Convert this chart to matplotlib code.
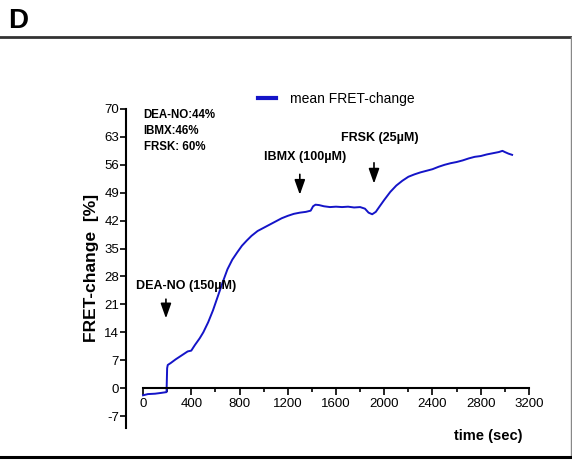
import matplotlib
matplotlib.use('Agg')

import numpy as np
import matplotlib.pyplot as plt
from matplotlib.lines import Line2D

plt.rcParams['font.family'] = ['Liberation Sans', 'DejaVu Sans']
plt.rcParams['axes.unicode_minus'] = False

# mean FRET-change trace
time_s = [0, 40, 100, 150, 195, 200, 205, 230, 270, 320, 370, 400, 430, 470, 500,
          540, 580, 620, 660, 700, 740, 780, 820, 860, 900, 950, 1000, 1050, 1100,
          1150, 1200, 1250, 1300, 1350, 1390, 1410, 1430, 1460, 1500, 1550, 1600,
          1650, 1700, 1750, 1800, 1840, 1870, 1900, 1930, 1960, 2000, 2050, 2100,
          2150, 2200, 2250, 2300, 2350, 2400, 2450, 2500, 2550, 2600, 2650, 2700,
          2750, 2800, 2850, 2900, 2950, 2980, 3000, 3030, 3060]
fret = [-1.8, -1.5, -1.4, -1.2, -1.0, 5.0, 5.8, 6.3, 7.2, 8.2, 9.2, 9.4, 10.8, 12.5,
        14.0, 16.5, 19.5, 23.0, 26.5, 29.8, 32.2, 34.0, 35.7, 37.0, 38.2, 39.4, 40.2,
        41.0, 41.8, 42.6, 43.2, 43.7, 44.0, 44.2, 44.5, 45.6, 46.0, 45.9, 45.6, 45.4,
        45.5, 45.4, 45.5, 45.3, 45.4, 45.0, 44.0, 43.6, 44.2, 45.5, 47.2, 49.2, 50.8,
        52.0, 53.0, 53.6, 54.1, 54.5, 54.9, 55.5, 56.0, 56.4, 56.7, 57.1, 57.6, 58.0,
        58.2, 58.6, 58.9, 59.2, 59.5, 59.2, 58.8, 58.5]

yticks = [-7, 0, 7, 14, 21, 28, 35, 42, 49, 56, 63, 70]
xticks = [0, 400, 800, 1200, 1600, 2000, 2400, 2800, 3200]

# stimulus: label, arrow x, arrow top y, arrow tip y, label x, label y
stimuli = [('DEA-NO (150µM)', 190, 23, 16.8, -58, 25.5),
           ('IBMX (100µM)', 1300, 54.3, 47.8, 1000, 57.9),
           ('FRSK (25µM)', 1915, 57.2, 50.6, 1640, 62.6)]

fig = plt.figure(figsize=(5.72, 4.61), dpi=100)
ax = fig.add_axes([0.2203, 0.0716, 0.7045, 0.692])

ax.plot(time_s, fret, color='#1414c8', lw=1.4, label='mean FRET-change')

ax.set_xlim(-141, 3200)
ax.set_ylim(-10, 70)
ax.spines['top'].set_visible(False)
ax.spines['right'].set_visible(False)
ax.spines['bottom'].set_position(('data', 0))
ax.spines['bottom'].set_bounds(0, 3200)
ax.spines['left'].set_bounds(-10, 70)
ax.spines['left'].set_linewidth(1.5)
ax.spines['bottom'].set_linewidth(1.5)

ax.set_xticks(xticks)
ax.set_xticks(np.arange(200, 3200, 400), minor=True)
ax.set_yticks(yticks)
ax.tick_params(axis='both', which='both', direction='out', width=1.2, labelsize=9.5)
ax.tick_params(axis='x', which='major', length=5, pad=2)
ax.tick_params(axis='x', which='minor', length=3)
ax.tick_params(axis='y', length=4, pad=1)

fig.text(0.16, 0.419, 'FRET-change  [%]', rotation=90, fontsize=12.5,
         fontweight='bold', ha='center', va='center')
fig.text(0.914, 0.055, 'time (sec)', fontsize=10.5, fontweight='bold',
         ha='right', va='center')

ax.text(5, 64.4, 'DEA-NO:44%\nIBMX:46%\nFRSK: 60%', fontsize=8.3, fontweight='bold',
        va='center', ha='left', linespacing=1.45)

for label, ax_x, y0, y1, lx, ly in stimuli:
    ax.annotate('', xy=(ax_x, y1), xytext=(ax_x, y0),
                arrowprops=dict(arrowstyle='-|>,head_length=0.9,head_width=0.32',
                                color='black', lw=1.2))
    ax.text(lx, ly, label, fontsize=9, fontweight='bold', ha='left', va='center')

leg = ax.legend(loc='lower left', bbox_to_anchor=(0.304, 0.978), frameon=False,
                fontsize=10, handlelength=1.3, handletextpad=1.0, borderaxespad=0.3)
leg.get_lines()[0].set_linewidth(3)

# panel letter and frame
fig.text(0.014, 0.955, 'D', fontsize=20, fontweight='bold', ha='left', va='center')
fig.add_artist(Line2D([0, 1], [0.919, 0.919], color='#333333', lw=2))
fig.add_artist(Line2D([0.998, 0.998], [0.009, 0.919], color='#888888', lw=1))
fig.add_artist(Line2D([0, 1], [0.009, 0.009], color='black', lw=2.2))

fig.savefig('out.png')
